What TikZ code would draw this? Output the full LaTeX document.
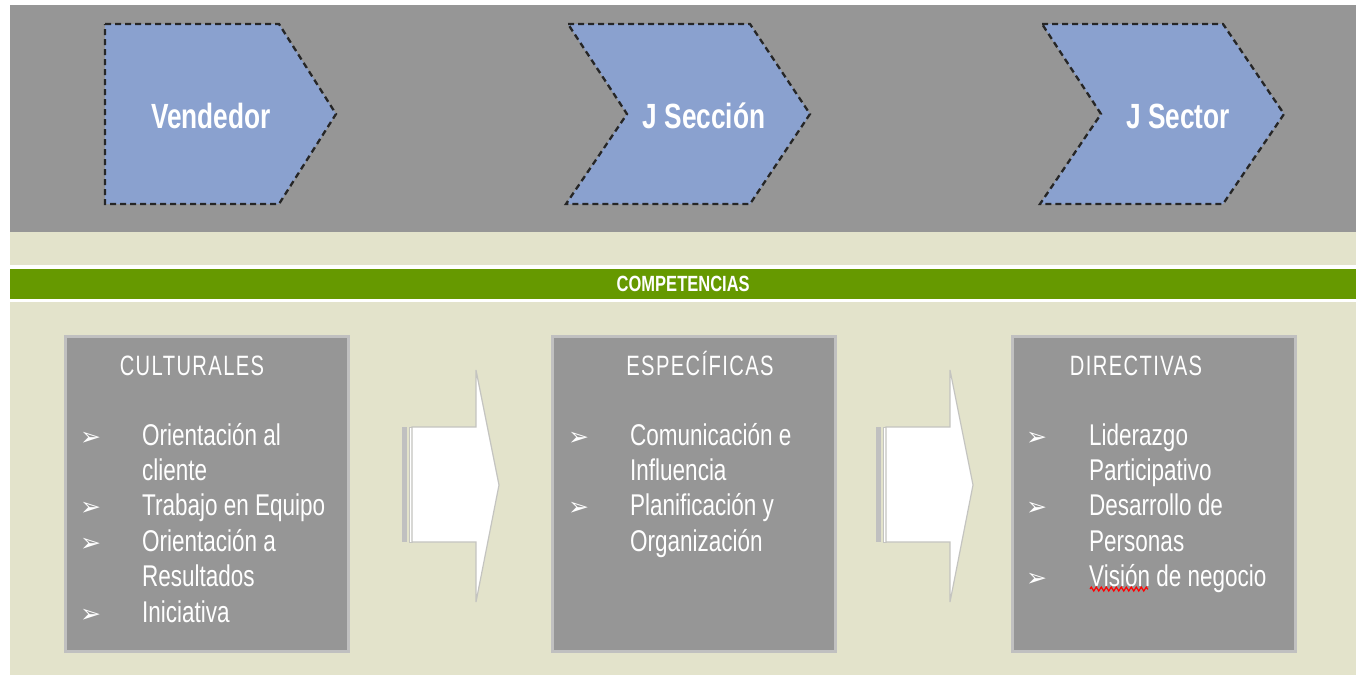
\documentclass[tikz,border=0pt]{standalone}
\usepackage{fontspec}
\setmainfont{Liberation Sans}
\newfontfamily\narrowfont[FakeStretch=0.75]{Liberation Sans}
\newfontfamily\headfont[FakeStretch=0.72,LetterSpace=5]{Liberation Sans}
\newfontfamily\symfont{DejaVu Sans}
\usetikzlibrary{positioning, decorations.pathmorphing}

\definecolor{panelgray}{HTML}{969696}
\definecolor{beige}{HTML}{E3E3CB}
\definecolor{compgreen}{HTML}{669900}
\definecolor{chevblue}{HTML}{8AA1CF}
\definecolor{boxborder}{HTML}{C0C0C0}
\definecolor{arrline}{HTML}{C4C4C0}

\newcommand{\bul}{{\symfont\fontsize{25}{25}\selectfont ➢}}

\begin{document}
\begin{tikzpicture}[
    x=1pt, y=-1pt,
    chev/.style={fill=chevblue, draw=black!85, dash pattern=on 6pt off 4pt, line width=2.3pt},
    chevtxt/.style={anchor=base, text=white, inner sep=0pt, font=\narrowfont\bfseries\fontsize{35}{35}\selectfont},
    compbox/.style={fill=panelgray, draw=boxborder, line width=3pt, minimum width=283pt, minimum height=315pt, inner sep=0pt},
    headtxt/.style={anchor=base, text=white, inner sep=0pt, font=\headfont\fontsize{28}{28}\selectfont},
    listtxt/.style={anchor=base west, text=white, inner sep=0pt, align=left, font=\narrowfont\fontsize{30}{35.4}\selectfont},
    blockarrow/.style={draw=arrline, fill=white, line width=1.2pt, line join=miter}
]
\useasboundingbox (0,0) rectangle (1356,675);
\fill[white] (0,0) rectangle (1356,675);

% panels
\fill[panelgray] (10,5) rectangle (1356,232);
\fill[beige] (10,232) rectangle (1356,265);
\fill[beige] (10,302) rectangle (1356,675);
\node[fill=compgreen, minimum width=1346pt, minimum height=30pt, inner sep=0pt, anchor=north west,
      text=white, font=\narrowfont\bfseries\fontsize{22}{22}\selectfont] (comp) at (10,269) {COMPETENCIAS};

% chevrons
\draw[chev] (105,24) -- (279,24) -- (336,114) -- (279,204) -- (105,204) -- cycle;
\draw[chev] (568,24) -- (750,24) -- (810,114) -- (750,204) -- (566,204) -- (627,114) -- cycle;
\draw[chev] (1042,24) -- (1223,24) -- (1284,114) -- (1223,204) -- (1040,204) -- (1101,114) -- cycle;
\node[chevtxt] (vend) at (211,128) {Vendedor};
\node[chevtxt] (jsecc) at (704,128) {J Sección};
\node[chevtxt] (jsect) at (1178,128) {J Sector};

% competence boxes
\node[compbox] (cult) at (207,494) {};
\node[compbox] (espec) at (694,494) {};
\node[compbox] (direc) at (1154,494) {};

\node[headtxt] (culth) at (192,375) {CULTURALES};
\node[headtxt] (espech) at (700,375) {ESPECÍFICAS};
\node[headtxt] (direch) at (1136,375) {DIRECTIVAS};

\node[listtxt] (cultl) at (80,445) {\begin{tabular}[t]{@{}p{62pt}@{}l@{}}
  \bul & Orientación al\\
       & cliente\\
  \bul & Trabajo en Equipo\\
  \bul & Orientación a\\
       & Resultados\\
  \bul & Iniciativa
\end{tabular}};
\node[listtxt] (especl) at (568,445) {\begin{tabular}[t]{@{}p{62pt}@{}l@{}}
  \bul & Comunicación e\\
       & Influencia\\
  \bul & Planificación y\\
       & Organización
\end{tabular}};
\node[listtxt] (direcl) at (1026,445) {\begin{tabular}[t]{@{}p{63pt}@{}l@{}}
  \bul & Liderazgo\\
       & Participativo\\
  \bul & Desarrollo de\\
       & Personas\\
  \bul & Visión de negocio
\end{tabular}};
\draw[red, line width=1.2pt, decorate, decoration={zigzag, segment length=5pt, amplitude=2pt}]
  (1090,589) -- (1148,589);

% block arrows between boxes
\foreach \dx in {0,474} {
  \fill[boxborder] (402+\dx,427) rectangle (407+\dx,542);
  \draw[draw=arrline, fill=white, line width=1pt] (409+\dx,427) rectangle (412+\dx,542);
  \draw[blockarrow] (412+\dx,427) -- (476+\dx,427) -- (476+\dx,370) -- (499+\dx,485)
    -- (476+\dx,602) -- (476+\dx,542) -- (412+\dx,542) -- cycle;
}

\end{tikzpicture}
\end{document}
